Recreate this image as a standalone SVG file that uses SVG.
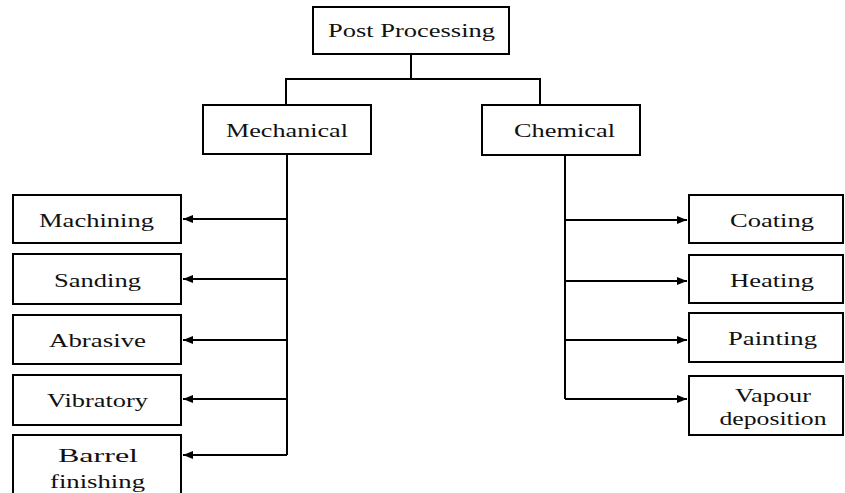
<svg xmlns="http://www.w3.org/2000/svg" width="845" height="493" viewBox="0 0 845 493">
<defs>
<style>
.box{fill:#fff;stroke:#000;stroke-width:2}
text{font-family:'Liberation Serif','Tinos','DejaVu Serif',serif;font-size:19px;fill:#111;text-anchor:middle}
.c{fill:none;stroke:#000;stroke-width:2}
</style>
<marker id="ah" markerWidth="10" markerHeight="8" refX="10" refY="4" orient="auto" markerUnits="userSpaceOnUse">
<path d="M0,0 L10,4 L0,8 Z" fill="#000"/>
</marker>
</defs>
<rect width="845" height="493" fill="#fff"/>
<g id="connectors">
<path class="c" d="M411,54 V79 M286,105 V79 H540 V105"/>
<path class="c" d="M287,154 V455"/>
<path class="c" d="M287,219 H183" marker-end="url(#ah)"/>
<path class="c" d="M287,279 H183" marker-end="url(#ah)"/>
<path class="c" d="M287,340 H183" marker-end="url(#ah)"/>
<path class="c" d="M287,399 H183" marker-end="url(#ah)"/>
<path class="c" d="M287,455 H183" marker-end="url(#ah)"/>
<path class="c" d="M565,155 V399"/>
<path class="c" d="M565,220 H687" marker-end="url(#ah)"/>
<path class="c" d="M565,281 H687" marker-end="url(#ah)"/>
<path class="c" d="M565,340 H687" marker-end="url(#ah)"/>
<path class="c" d="M565,399 H687" marker-end="url(#ah)"/>
</g>
<g id="post"><rect class="box" x="313" y="7" width="196" height="47"/><text x="411.5" y="37" textLength="167" lengthAdjust="spacingAndGlyphs">Post Processing</text></g>
<g id="mechanical"><rect class="box" x="203" y="105" width="168" height="49"/><text x="287" y="137" textLength="122" lengthAdjust="spacingAndGlyphs">Mechanical</text></g>
<g id="chemical"><rect class="box" x="482" y="105" width="158" height="50"/><text x="564.5" y="137" textLength="101" lengthAdjust="spacingAndGlyphs">Chemical</text></g>
<g id="machining"><rect class="box" x="13" y="195" width="168" height="48"/><text x="96.5" y="227" textLength="115" lengthAdjust="spacingAndGlyphs">Machining</text></g>
<g id="sanding"><rect class="box" x="13" y="254" width="168" height="50"/><text x="97.5" y="287" textLength="87" lengthAdjust="spacingAndGlyphs">Sanding</text></g>
<g id="abrasive"><rect class="box" x="13" y="315" width="168" height="49"/><text x="97.5" y="347" textLength="97" lengthAdjust="spacingAndGlyphs">Abrasive</text></g>
<g id="vibratory"><rect class="box" x="13" y="375" width="168" height="50"/><text x="97.5" y="407" textLength="101" lengthAdjust="spacingAndGlyphs">Vibratory</text></g>
<g id="barrel"><rect class="box" x="13" y="435" width="168" height="70"/><text x="98" y="462" textLength="80" lengthAdjust="spacingAndGlyphs">Barrel</text><text x="97.5" y="488" textLength="95" lengthAdjust="spacingAndGlyphs">finishing</text></g>
<g id="coating"><rect class="box" x="689" y="195" width="154" height="48"/><text x="772" y="227" textLength="84" lengthAdjust="spacingAndGlyphs">Coating</text></g>
<g id="heating"><rect class="box" x="689" y="255" width="154" height="48"/><text x="772" y="287" textLength="84" lengthAdjust="spacingAndGlyphs">Heating</text></g>
<g id="painting"><rect class="box" x="689" y="313" width="154" height="49"/><text x="772.5" y="345" textLength="89" lengthAdjust="spacingAndGlyphs">Painting</text></g>
<g id="vapour"><rect class="box" x="689" y="376" width="154" height="59"/><text x="773" y="402" textLength="76" lengthAdjust="spacingAndGlyphs">Vapour</text><text x="773" y="425" textLength="107" lengthAdjust="spacingAndGlyphs">deposition</text></g>
</svg>
